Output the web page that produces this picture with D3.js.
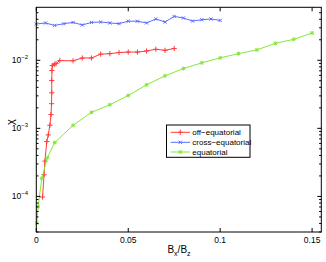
<!DOCTYPE html>
<html><head><meta charset="utf-8">
<script src="https://cdn.jsdelivr.net/npm/d3@7"></script>
<style>html,body{margin:0;padding:0;background:#fff;}svg{display:block;font-family:"Liberation Sans",Arial,sans-serif;}</style>
</head><body><svg id="c" width="326" height="262"></svg>
<script>
// ---- data ----
const offX = [0.0034,0.0042,0.0047,0.0057,0.0065,0.0074,0.0080,0.0083,0.0084,0.0084,0.0085,0.0087,0.0098,0.0107,0.0128,0.020,0.025,0.030,0.035,0.040,0.045,0.050,0.055,0.060,0.065,0.070,0.075];
const offY = [9.8e-5,2.08e-4,3.3e-4,6.4e-4,8.0e-4,1.11e-3,1.59e-3,2.30e-3,3.33e-3,5.04e-3,7.07e-3,8.37e-3,8.74e-3,8.95e-3,9.9e-3,9.83e-3,0.0108,0.0108,0.0123,0.0125,0.0130,0.0132,0.0132,0.0137,0.0145,0.0140,0.0149];
const crossX = [0,0.005,0.010,0.015,0.020,0.025,0.030,0.035,0.040,0.045,0.050,0.055,0.060,0.065,0.070,0.075,0.080,0.085,0.090,0.095,0.100];
const crossY = [0.0341,0.0353,0.0325,0.0345,0.0360,0.0330,0.0360,0.0365,0.0353,0.0345,0.0375,0.0375,0.0353,0.0404,0.0365,0.0441,0.0418,0.0377,0.0394,0.0404,0.0385];
const eqX = [0.0003,0.001,0.003,0.006,0.010,0.020,0.030,0.040,0.050,0.060,0.070,0.080,0.090,0.100,0.110,0.120,0.130,0.140,0.150];
const eqY = [4.06e-5,7.14e-5,1.84e-4,3.69e-4,6.18e-4,1.107e-3,1.716e-3,2.22e-3,3.04e-3,4.36e-3,5.91e-3,7.55e-3,9.16e-3,0.01084,0.01253,0.0142,0.01774,0.02029,0.02518];
const xTicks = [0, 0.05, 0.1, 0.15];
const xTickLabels = ["0", "0.05", "0.1", "0.15"];
const yMajor = [1e-4, 1e-3, 1e-2];
const yMajorExp = ["\u22124", "\u22123", "\u22122"];
const seriesNames = ["off\u2212equatorial", "cross\u2212equatorial", "equatorial"];

// ---- layout ----
const L = 36.3, R = 321.3, T = 7.3, B = 232;
const svg = d3.select("#c");
const x = d3.scaleLinear().domain([0, 0.155]).range([L, R]);
const y = d3.scaleLog().domain([3e-5, 0.06]).range([B, T]);

const colors = ["#ff3b3b", "#5b6cff", "#86e83a"];
const series = [
  {x: offX, y: offY, m: "plus"},
  {x: crossX, y: crossY, m: "cross"},
  {x: eqX, y: eqY, m: "star"}
];

function marker(g, type, cx, cy, col) {
  const s = type === "plus" ? 2.6 : 2.0;
  let d = "";
  if (type === "plus" || type === "star") d += `M${cx-s},${cy}H${cx+s}M${cx},${cy-s}V${cy+s}`;
  if (type === "cross" || type === "star") { const t = s * 0.8; d += `M${cx-t},${cy-t}L${cx+t},${cy+t}M${cx-t},${cy+t}L${cx+t},${cy-t}`; }
  g.append("path").attr("d", d).attr("stroke", col).attr("stroke-width", 1).attr("fill", "none");
}

// ---- series ----
const plot = svg.append("g");
series.forEach((s, i) => {
  const pts = s.x.map((v, k) => [x(v), y(s.y[k])]);
  plot.append("path").attr("d", d3.line()(pts)).attr("fill", "none")
    .attr("stroke", colors[i]).attr("stroke-width", 1);
  pts.forEach(p => marker(plot, s.m, p[0], p[1], colors[i]));
});

// ---- axes ----
const ax = svg.append("g").attr("stroke", "#000").attr("stroke-width", 1);
ax.append("rect").attr("x", L).attr("y", T).attr("width", R - L).attr("height", B - T).attr("fill", "none");
const maj = 4, mnr = 2.2;
xTicks.forEach((v, i) => {
  const px = x(v);
  ax.append("line").attr("x1", px).attr("x2", px).attr("y1", B).attr("y2", B - maj);
  ax.append("line").attr("x1", px).attr("x2", px).attr("y1", T).attr("y2", T + maj);
  svg.append("text").attr("x", px).attr("y", 242.5).attr("text-anchor", "middle")
    .attr("font-size", 8.5).text(xTickLabels[i]);
});
// minor log ticks
const minors = [];
for (let e = -5; e <= -2; e++) for (let k = 2; k <= 9; k++) {
  const v = k * Math.pow(10, e);
  if (v > 3e-5 && v < 0.06) minors.push(v);
}
minors.forEach(v => {
  const py = y(v);
  ax.append("line").attr("x1", L).attr("x2", L + mnr).attr("y1", py).attr("y2", py);
  ax.append("line").attr("x1", R).attr("x2", R - mnr).attr("y1", py).attr("y2", py);
});
yMajor.forEach((v, i) => {
  const py = y(v);
  ax.append("line").attr("x1", L).attr("x2", L + maj).attr("y1", py).attr("y2", py);
  ax.append("line").attr("x1", R).attr("x2", R - maj).attr("y1", py).attr("y2", py);
  const t = svg.append("text").attr("x", 28).attr("y", py + 3).attr("text-anchor", "end").attr("font-size", 8.5);
  t.append("tspan").text("10");
  t.append("tspan").attr("dy", -4).attr("font-size", 6).text(yMajorExp[i]);
});

// ---- axis labels ----
svg.append("text").attr("transform", "translate(14,122) rotate(-90)").attr("text-anchor", "middle")
  .attr("font-size", 11).text("\u03c7");
const xl = svg.append("text").attr("x", 179).attr("y", 252.5).attr("text-anchor", "middle").attr("font-size", 10);
xl.append("tspan").text("B");
xl.append("tspan").attr("dy", 3).attr("font-size", 7).text("x");
xl.append("tspan").attr("dy", -3).text("/B");
xl.append("tspan").attr("dy", 3).attr("font-size", 7).text("z");

// ---- legend ----
const lg = svg.append("g");
lg.append("rect").attr("x", 166.5).attr("y", 125).attr("width", 83.5).attr("height", 32.3)
  .attr("fill", "#fff").attr("stroke", "#000").attr("stroke-width", 1);
const lys = [132.3, 142.3, 152];
series.forEach((s, i) => {
  lg.append("line").attr("x1", 170.7).attr("x2", 190).attr("y1", lys[i]).attr("y2", lys[i])
    .attr("stroke", colors[i]).attr("stroke-width", 1);
  marker(lg, s.m, 180.3, lys[i], colors[i]);
  lg.append("text").attr("x", 192.3).attr("y", lys[i] + 2.8).attr("font-size", 8).text(seriesNames[i]);
});
</script></body></html>
